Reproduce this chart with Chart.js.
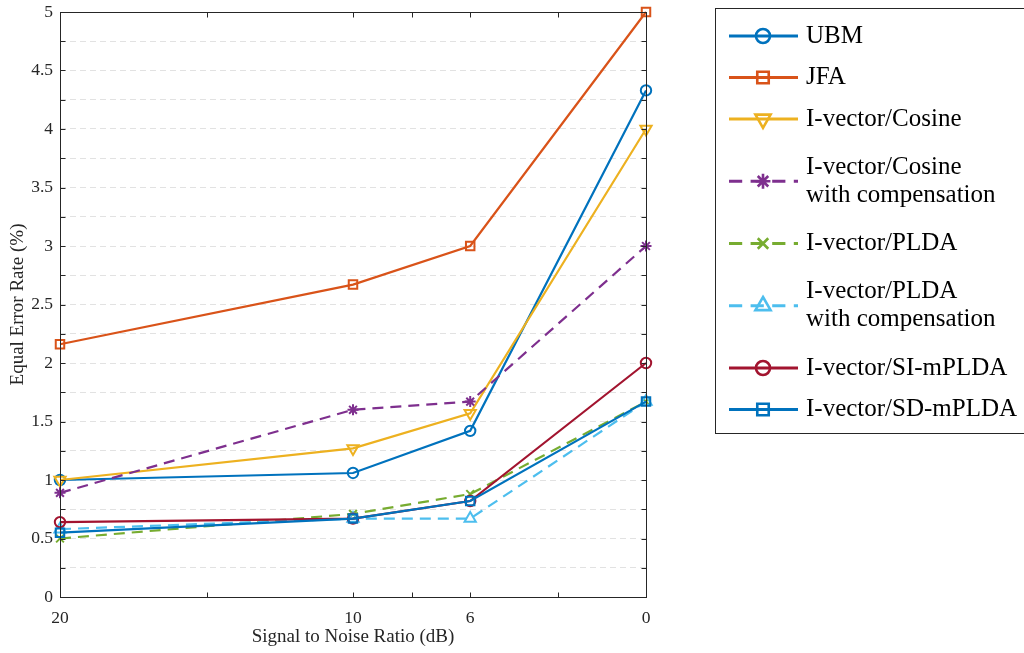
<!DOCTYPE html>
<html>
<head>
<meta charset="utf-8">
<script src="https://cdn.jsdelivr.net/npm/chart.js@4.4.1/dist/chart.umd.min.js"></script>
<style>
  html, body { margin: 0; padding: 0; background: #fff; }
  #wrap { width: 1024px; height: 653px; position: relative; }
</style>
</head>
<body>
<div id="wrap"><canvas id="c" width="1024" height="653"></canvas></div>
<script>
// SNR conditions (dB) and equal error rates (%) per system
const snr = [20, 10, 6, 0];
const xTickValues = [20, 15, 10, 8, 6, 3, 0];
const xTickLabels = ['20', '', '10', '', '6', '', '0'];

const ubm        = [1.00, 1.06, 1.42, 4.33];
const jfa        = [2.16, 2.67, 3.00, 5.00];
const cosine     = [1.00, 1.27, 1.57, 4.00];
const cosineComp = [0.89, 1.60, 1.67, 3.00];
const plda       = [0.50, 0.71, 0.88, 1.67];
const pldaComp   = [0.58, 0.67, 0.67, 1.67];
const siMplda    = [0.64, 0.67, 0.82, 2.00];
const sdMplda    = [0.55, 0.67, 0.82, 1.67];

const SERIF = "'Liberation Serif', 'Times New Roman', serif";
const AXIS_COLOR = '#262626';

function series(label, values, color, pointStyle, dashed, extra) {
  return Object.assign({
    label: label,
    data: snr.map((x, i) => ({ x: x, y: values[i] })),
    borderColor: color,
    backgroundColor: 'rgba(0,0,0,0)',
    pointBackgroundColor: 'rgba(0,0,0,0)',
    pointBorderColor: color,
    borderWidth: 2.2,
    pointBorderWidth: 2,
    pointRadius: 5.2,
    pointStyle: pointStyle,
    borderDash: dashed ? [11, 7] : [],
    tension: 0,
    clip: false
  }, extra || {});
}

const datasets = [
  series('UBM', ubm, '#0072BD', 'circle', false),
  series('JFA', jfa, '#D95319', 'rect', false, { pointRadius: 6 }),
  series('I-vector/Cosine', cosine, '#EDB120', 'triangle', false, { pointRadius: 6.5, pointRotation: 180 }),
  series('I-vector/Cosine\nwith compensation', cosineComp, '#7E2F8E', 'star', true, { pointRadius: 5.5 }),
  series('I-vector/PLDA', plda, '#77AC30', 'crossRot', true, { pointRadius: 5.5 }),
  series('I-vector/PLDA\nwith compensation', pldaComp, '#4DBEEE', 'triangle', true, { pointRadius: 6.5 }),
  series('I-vector/SI-mPLDA', siMplda, '#A2142F', 'circle', false),
  series('I-vector/SD-mPLDA', sdMplda, '#0072BD', 'rect', false, { pointRadius: 6 })
];
// later series are painted over earlier ones
datasets.forEach((d, i) => { d.order = -i; });

// Box around the plot with inward tick marks on all four sides
const axesBox = {
  id: 'axesBox',
  afterDraw(chart) {
    const { ctx, chartArea: a, scales } = chart;
    const L = Math.round(a.left) + 0.5, R = Math.round(a.right) + 0.5;
    const T = Math.round(a.top) + 0.5, B = Math.round(a.bottom) + 0.5;
    ctx.save();
    ctx.setLineDash([]);
    ctx.strokeStyle = AXIS_COLOR;
    ctx.lineWidth = 1;
    ctx.strokeRect(L, T, R - L, B - T);
    const len = 5;
    ctx.beginPath();
    xTickValues.forEach(v => {
      const px = Math.round(scales.x.getPixelForValue(v)) + 0.5;
      ctx.moveTo(px, B); ctx.lineTo(px, B - len);
      ctx.moveTo(px, T); ctx.lineTo(px, T + len);
    });
    for (let k = 0; k <= 20; k++) {
      const py = Math.round(scales.y.getPixelForValue(k * 0.25)) + 0.5;
      ctx.moveTo(L, py); ctx.lineTo(L + len, py);
      ctx.moveTo(R, py); ctx.lineTo(R - len, py);
    }
    ctx.stroke();
    ctx.restore();
  }
};

// Boxed legend on the right; labels may span two lines
const boxLegend = {
  id: 'boxLegend',
  afterDraw(chart) {
    const ctx = chart.ctx;
    const unit = 41.5, lineGap = 28, scale = 1.35;
    let cy = 36 - unit / 2;
    ctx.save();
    ctx.setLineDash([]);
    ctx.strokeStyle = AXIS_COLOR;
    ctx.lineWidth = 1;
    ctx.strokeRect(715.5, 8.5, 330, 425);
    chart.data.datasets.forEach(ds => {
      const lines = ds.label.split('\n');
      const h = unit * lines.length;
      const y = cy + h / 2;
      cy += h;
      ctx.strokeStyle = ds.borderColor;
      ctx.lineWidth = 3;
      ctx.setLineDash((ds.borderDash || []).map(d => d * 1.2));
      ctx.beginPath();
      ctx.moveTo(729, y); ctx.lineTo(798, y);
      ctx.stroke();
      ctx.setLineDash([]);
      ctx.fillStyle = 'rgba(0,0,0,0)';
      ctx.lineWidth = 2.6;
      Chart.helpers.drawPoint(ctx, {
        pointStyle: ds.pointStyle,
        rotation: ds.pointRotation || 0,
        radius: ds.pointRadius * scale,
        borderWidth: 2.6
      }, 763, y);
      ctx.fillStyle = '#000';
      ctx.font = '25px ' + SERIF;
      ctx.textAlign = 'left';
      ctx.textBaseline = 'middle';
      lines.forEach((t, i) => {
        ctx.fillText(t, 806, y + (i - (lines.length - 1) / 2) * lineGap);
      });
    });
    ctx.restore();
  }
};

new Chart(document.getElementById('c'), {
  type: 'line',
  data: { datasets: datasets },
  plugins: [axesBox, boxLegend],
  options: {
    responsive: false,
    animation: false,
    layout: { padding: { left: 0, right: 378, top: 12, bottom: 0 } },
    plugins: { legend: { display: false }, tooltip: { enabled: false } },
    scales: {
      x: {
        type: 'linear',
        reverse: true,
        min: 0,
        max: 20,
        afterBuildTicks: s => { s.ticks = xTickValues.map(v => ({ value: v })); },
        afterFit: s => { s.height = 56; s.paddingLeft = 0; s.paddingRight = 0; },
        ticks: {
          autoSkip: false,
          maxRotation: 0,
          padding: 3,
          color: AXIS_COLOR,
          font: { family: SERIF, size: 17.5 },
          callback: v => { const i = xTickValues.indexOf(v); return i >= 0 ? xTickLabels[i] : ''; }
        },
        grid: { display: false },
        border: { display: false },
        title: {
          display: true,
          text: 'Signal to Noise Ratio (dB)',
          color: AXIS_COLOR,
          font: { family: SERIF, size: 19 },
          padding: { top: 0, bottom: 5 }
        }
      },
      y: {
        min: 0,
        max: 5,
        afterFit: s => { s.width = 60; s.paddingTop = 0; s.paddingBottom = 0; },
        ticks: {
          stepSize: 0.25,
          autoSkip: false,
          padding: 7,
          color: AXIS_COLOR,
          font: { family: SERIF, size: 17.5 },
          callback: v => (Math.abs(v * 2 - Math.round(v * 2)) < 1e-9 ? String(v) : '')
        },
        grid: { color: '#e2e2e2', lineWidth: 1, drawTicks: false },
        border: { display: false, dash: [6, 4] },
        title: {
          display: true,
          text: 'Equal Error Rate (%)',
          color: AXIS_COLOR,
          font: { family: SERIF, size: 19 },
          padding: { top: 7, bottom: 0 }
        }
      }
    }
  }
});
</script>
</body>
</html>
